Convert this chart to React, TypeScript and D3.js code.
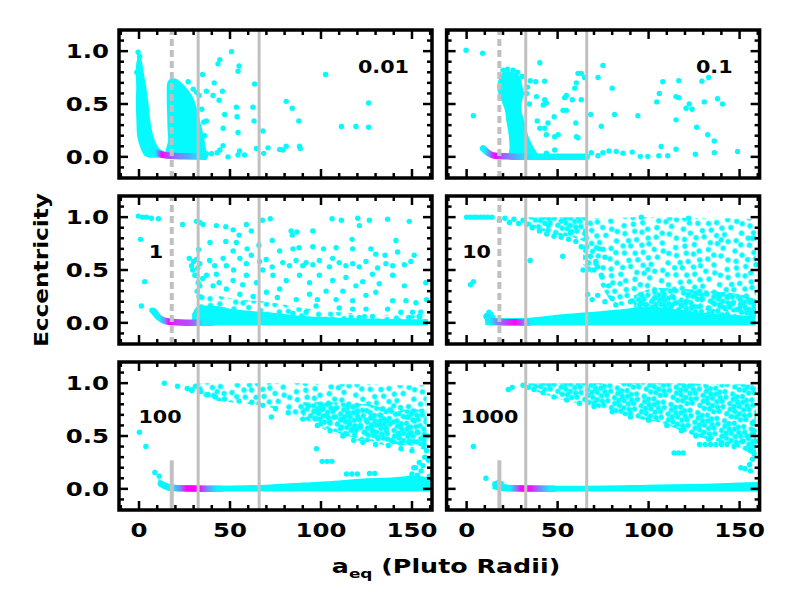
import React from "react";
import * as d3 from "d3";

// ---- data ----
const X_DOMAIN: [number, number] = [-11, 161];
const Y_DOMAIN: [number, number] = [-0.2, 1.2];
const X_MAJOR = [0, 50, 100, 150];
const X_MINOR = d3.range(-10, 161, 10);
const Y_MAJOR = [0, 0.5, 1.0];
const Y_MINOR = d3.range(-0.1, 1.15, 0.1);
const MASS_LABELS = ["0.01", "0.1", "1", "10", "100", "1000"];
const DASHED_A = 18;
const SOLID_A = [32.5, 66];

// scattered points [a, e]
const pts001: [number, number][] = [
  [50.8, 0.995], [44.4, 0.92], [43.4, 0.88], [55, 0.86], [54.4, 0.81], [34.9, 0.78], [102.5, 0.78],
  [27, 0.71], [41.3, 0.7], [63.5, 0.69], [29.8, 0.64], [31.6, 0.61], [37, 0.62], [40.7, 0.58],
  [45.8, 0.62], [44, 0.535], [80.9, 0.525], [126.2, 0.51], [53.5, 0.47], [62.6, 0.47], [84.2, 0.46],
  [47.1, 0.4], [53.9, 0.38], [63.2, 0.34], [87.8, 0.34], [37, 0.34], [35.6, 0.33], [111.2, 0.287],
  [119.2, 0.287], [126.2, 0.28], [46.2, 0.27], [54.4, 0.23], [68.1, 0.245], [46.2, 0.106], [44.4, 0.065],
  [88.2, 0.1], [88.6, 0.08], [80.9, 0.1], [77.3, 0.07], [79.1, 0.065], [70.9, 0.085], [64.5, 0.08],
  [55.3, 0.055], [54.4, 0.017], [58, 0.017], [48.9, 0.0], [68.5, 0.033], [42.9, 0.04], [37, 0.03], [39.8, 0.03],
  [-0.5, 0.99], [0.3, 0.95], [-1.2, 0.8], [1.2, 0.78], [33, 0.58], [34.5, 0.45], [36, 0.2],
];
const pts01: [number, number][] = [
  [-0.3, 1.008], [8.8, 0.98], [3.7, 0.39], [40.2, 0.89], [74.9, 0.865], [61.2, 0.79], [63, 0.79],
  [64.8, 0.75], [72.2, 0.75], [38, 0.71], [42.9, 0.715], [60.3, 0.7], [80, 0.65], [59.4, 0.65],
  [107.8, 0.71], [116.6, 0.72], [129.3, 0.715], [133, 0.75], [105.9, 0.6], [115, 0.57], [116.6, 0.56],
  [130.6, 0.52], [137.9, 0.55], [140.6, 0.5], [122.4, 0.5], [120.6, 0.46], [123.9, 0.45], [104.5, 0.52],
  [38.4, 0.57], [42.9, 0.54], [43.8, 0.51], [42.1, 0.49], [53.9, 0.56], [54.8, 0.58], [58.1, 0.54],
  [63, 0.54], [53, 0.44], [54.8, 0.44], [68.2, 0.4], [81.3, 0.4], [94.1, 0.39], [48.1, 0.38], [38.8, 0.34],
  [44.7, 0.32], [60, 0.32], [74, 0.29], [40.2, 0.27], [42.9, 0.27], [115.1, 0.35], [126.4, 0.28],
  [132.5, 0.21], [43.8, 0.21], [48.4, 0.19], [50.3, 0.21], [60.3, 0.19], [61.2, 0.18], [136.1, 0.15],
  [106.9, 0.098], [115.1, 0.072], [148.9, 0.05], [136.1, 0.04], [125.7, 0.025], [105.6, 0.01], [110.5, 0.01],
  [95.4, 0.005], [99.6, 0.005], [91, 0.045], [85.9, 0.035], [82.2, 0.05], [78.2, 0.055], [74.9, 0.04],
  [72.2, 0.01], [68.5, 0.04], [48.4, 0.065], [43.8, 0.035], [35, 0.72], [33, 0.6], [34.5, 0.5],
  [20, 0.82], [22.5, 0.83], [25.5, 0.82], [28, 0.8], [30.5, 0.76], [33.5, 0.66],
];
const pts1: [number, number][] = [
  [-0.4, 1.01], [1.9, 1.0], [4.1, 1.0], [6.8, 0.99], [10.7, 0.985], [0.8, 0.79], [3.1, 0.39], [1.3, 0.16],
  [7.1, 0.12], [8.9, 0.1], [23.9, 0.93], [31.6, 0.96], [33.4, 0.95], [35.2, 0.93], [42.5, 0.92], [47.7, 0.91],
  [51.7, 0.88], [55, 0.83], [59, 0.93], [61.7, 0.87], [67.8, 0.97], [72.1, 0.985], [83.6, 0.87], [86.7, 0.86],
  [84.2, 0.83], [95.5, 0.87], [106.1, 0.985], [111.2, 0.97], [120.2, 0.99], [121.1, 0.92], [126.6, 0.97],
  [136.6, 0.98], [148.5, 0.96], [32.7, 0.695], [39, 0.76], [47.7, 0.77], [51.7, 0.68], [53.5, 0.76],
  [59.4, 0.7], [61.7, 0.64], [65.9, 0.735], [73.2, 0.78], [77.3, 0.68], [84.6, 0.7], [87.9, 0.71],
  [95.5, 0.72], [101.4, 0.7], [108.3, 0.71], [117.1, 0.79], [117.4, 0.7], [127.4, 0.7], [130.1, 0.65],
  [135.2, 0.64], [141.2, 0.78], [142.1, 0.67], [151.2, 0.64], [27.6, 0.61], [28.9, 0.54], [33.4, 0.56],
  [38.8, 0.59], [41.6, 0.54], [46.2, 0.61], [48, 0.54], [55.4, 0.61], [59, 0.56], [66.3, 0.58], [69.9, 0.6],
  [73.2, 0.53], [79, 0.57], [82.7, 0.54], [86.3, 0.59], [90, 0.54], [91.8, 0.57], [95.5, 0.55], [99.1, 0.59],
  [104.6, 0.53], [106.4, 0.61], [110, 0.57], [113.7, 0.54], [117.4, 0.56], [121, 0.53], [124.7, 0.58],
  [131.1, 0.52], [135.7, 0.56], [139.4, 0.54], [145.8, 0.55], [149.4, 0.58], [30.7, 0.45], [37.1, 0.45],
  [42.5, 0.46], [51.7, 0.4], [59, 0.45], [64.5, 0.38], [73.6, 0.45], [80.9, 0.4], [88.2, 0.45], [93.7, 0.38],
  [99.1, 0.45], [106.4, 0.4], [113.7, 0.43], [119.2, 0.35], [122.9, 0.39], [128.3, 0.46], [139.4, 0.45],
  [145.8, 0.35], [157.6, 0.38], [33.4, 0.35], [40.7, 0.35], [48, 0.32], [55.4, 0.27], [62.7, 0.25], [70, 0.29],
  [77.3, 0.32], [86.4, 0.22], [93.7, 0.27], [102.8, 0.3], [108.3, 0.22], [117.4, 0.21], [124.7, 0.26],
  [130.1, 0.29], [139.4, 0.21], [146.7, 0.21], [152.2, 0.19], [136.6, 0.13], [143.9, 0.1], [150.3, 0.1],
  [154.8, 0.1], [110, 0.14], [117.4, 0.13], [124.7, 0.13], [97.3, 0.16], [91.8, 0.1], [84.6, 0.09],
  [121, 0.05], [128.3, 0.06], [142.8, 0.02], [148.2, 0.05], [153.9, 0.06], [32, 0.3], [32.5, 0.38],
  [31.8, 0.45], [32.3, 0.52], [31.5, 0.6], [33, 0.25], [29.5, 0.5], [30, 0.58], [35, 0.42], [44, 0.38],
  [52, 0.5], [57, 0.36], [68, 0.5], [76, 0.24], [98, 0.22], [112, 0.3], [132, 0.37], [158, 0.22],
];
const pts10: [number, number][] = [
  [0, 1], [2, 1], [4, 1], [5.5, 1], [7.5, 1], [9.5, 1], [11.5, 1], [14, 1], [2.1, 0.36], [3.7, 0.39],
  [34.9, 0.59], [11, 0.07], [12.3, 0.1], [13.5, 0.08], [11.5, 0.04], [14.5, 0.05], [18, 0.97], [21, 0.99],
  [23.5, 0.95], [26, 0.98], [28.5, 0.94], [31, 0.97], [33, 0.93], [36, 0.9], [40, 0.87], [44, 0.84],
  [48, 0.82], [52, 0.81], [56, 0.79], [60, 0.77], [63, 0.72], [66, 0.72], [57, 0.85], [45, 0.92],
  [64, 0.5], [67, 0.51], [70, 0.5], [72, 0.53], [66.5, 0.27], [69, 0.22], [72, 0.26], [76, 0.2], [80, 0.23],
  [68, 0.63], [71, 0.58], [74, 0.45], [78, 0.35], [73, 0.7], [76, 0.62], [52.8, 0.63], [82, 0.17], [90, 0.2],
  [118, 0.16], [133, 0.14], [150, 0.13], [158, 0.2], [159, 0.55], [157, 0.8], [96, 1.0], [122, 0.99],
];
const pts100: [number, number][] = [
  [0.2, 0.536], [3.8, 0.4], [13.9, 1.0], [21.2, 0.97], [8.7, 0.155], [11.1, 0.12], [97.5, 0.38],
  [100.6, 0.26], [103.3, 0.26], [106, 0.26], [114, 0.14], [117, 0.14], [120, 0.14], [126.6, 0.146],
  [129.5, 0.146], [72.7, 0.68], [148, 0.1], [150, 0.14], [152, 0.2], [155, 0.17], [154, 0.25], [156, 0.22],
  [157, 0.3], [158, 0.36], [156.5, 0.42], [158.5, 0.5], [159, 0.27], [159.5, 0.12], [151, 0.2], [153, 0.13],
  [26.5, 0.95], [29, 0.93], [31, 0.97], [34, 0.92], [38, 0.89], [42, 0.87], [47, 0.85], [55, 0.83],
  [62, 0.82], [68, 0.79], [75, 0.76], [82, 0.72], [90, 0.66], [98, 0.6], [105, 0.55], [112, 0.5],
  [118, 0.46], [123, 0.44], [130, 0.42], [137, 0.41], [144, 0.38], [150, 0.36],
];
const pts1000: [number, number][] = [
  [3.7, 0.4], [10.6, 0.1], [22.9, 0.94], [25.1, 0.96], [114, 0.34], [116.5, 0.34], [119, 0.34],
  [128, 0.42], [131, 0.42], [134, 0.42], [137, 0.42], [140, 0.42], [143, 0.42], [150.7, 0.2], [153, 0.19],
  [156, 0.17], [155.5, 0.23], [157, 0.28], [158, 0.33], [156, 0.38], [152, 0.45], [159, 0.45], [158, 0.55],
  [157, 0.62], [154, 0.5], [16, 0.05], [17.5, 0.06], [19, 0.05], [31, 0.98], [34, 0.96], [37, 0.94],
  [42, 0.91], [48, 0.87], [55, 0.84], [62, 0.81], [70, 0.78], [80, 0.73], [90, 0.68], [100, 0.65],
  [110, 0.6], [118, 0.55], [126, 0.5], [133, 0.47], [140, 0.44], [147, 0.4],
];

// dense clumps, [e, aMin, aMax]
const clumps001: [number, number, number][][] = [
  [[0.93, -0.4, 0.6], [0.88, -1.0, 1.3], [0.8, -1.3, 2.0], [0.67, -1.0, 3.3], [0.51, -1.2, 4.6],
   [0.35, -0.9, 5.6], [0.19, -0.4, 7.4], [0.08, 1.5, 10.4], [0.02, 3.3, 15], [0.0, 6, 15]],
  [[0.735, 18, 19.5], [0.71, 16.3, 22], [0.66, 15.8, 25], [0.58, 15.8, 28.5], [0.5, 15.8, 30.5], [0.4, 16, 32],
   [0.27, 16.2, 34], [0.15, 16.5, 35.5], [0.05, 15, 36.5], [-0.005, 15, 37]],
];
const clumps01: [number, number, number][][] = [
  [[0.8, 21, 23], [0.77, 19, 28], [0.72, 18, 29.5], [0.67, 17.4, 30], [0.6, 18, 31], [0.54, 19.5, 30],
   [0.44, 21.6, 29.5], [0.35, 22.3, 31], [0.19, 23.8, 33.5], [0.065, 24, 37], [-0.005, 23, 40]],
];

// filled bands, [a, eLow, eHigh]
const solid1: [number, number, number][] = [
  [30, -0.01, 0.08], [33, -0.01, 0.15], [40, -0.01, 0.15], [50, -0.01, 0.12], [60, -0.01, 0.1], [75, -0.01, 0.08],
  [90, -0.01, 0.05], [110, -0.01, 0.035], [130, -0.01, 0.025], [158, -0.01, 0.02],
];
const cloud1: [number, number, number][] = [
  [32, 0.1, 0.3], [40, 0.1, 0.27], [55, 0.08, 0.22], [70, 0.06, 0.2], [90, 0.04, 0.14], [110, 0.02, 0.1],
  [130, 0.02, 0.08], [158, 0.01, 0.07],
];
const solid10: [number, number, number][] = [
  [11, -0.005, 0.06], [15, -0.01, 0.03], [35, -0.01, 0.035], [51, -0.01, 0.065], [70, -0.01, 0.09],
  [88, -0.01, 0.12], [100, -0.01, 0.135], [110, -0.01, 0.125], [125, -0.01, 0.09], [140, -0.01, 0.07], [158, -0.01, 0.05],
];
const dense10: [number, number, number][] = [
  [33, 0.93, 1.0], [40, 0.88, 1.0], [50, 0.83, 1.0], [60, 0.8, 1.0], [66, 0.76, 1.0],
];
const lowDense10: [number, number, number][] = [
  [92, 0.12, 0.26], [105, 0.12, 0.33], [120, 0.08, 0.32], [135, 0.06, 0.3], [150, 0.05, 0.27], [159, 0.05, 0.22],
];
const cloud10: [number, number, number][] = [
  [64, 0.55, 0.99], [72, 0.4, 0.99], [80, 0.2, 0.99], [90, 0.15, 1.0], [110, 0.14, 1.0], [130, 0.13, 0.99],
  [145, 0.1, 0.99], [159, 0.08, 0.98],
];
const solid100: [number, number, number][] = [
  [11.5, 0.035, 0.07], [17, -0.005, 0.025], [40, -0.01, 0.015], [70, -0.01, 0.025], [90, -0.01, 0.045],
  [110, -0.01, 0.065], [125, -0.01, 0.085], [140, -0.01, 0.095], [152, -0.01, 0.11], [160, -0.01, 0.09],
];
const cloud100: [number, number, number][] = [
  [27, 0.93, 0.975], [35, 0.86, 1.0], [50, 0.82, 1.0], [70, 0.78, 1.0], [88, 0.68, 1.0], [106, 0.53, 0.99],
  [125, 0.44, 0.99], [143, 0.4, 0.98], [158, 0.37, 0.98],
];
const dense100: [number, number, number][] = [
  [90, 0.68, 0.82], [106, 0.55, 0.82], [125, 0.46, 0.8], [143, 0.42, 0.75], [158, 0.4, 0.75],
];
const solid1000: [number, number, number][] = [
  [15, 0.01, 0.05], [19, -0.005, 0.03], [30, -0.01, 0.015], [60, -0.01, 0.015], [100, -0.01, 0.025],
  [130, -0.01, 0.035], [150, -0.01, 0.045], [160, -0.01, 0.05],
];
const dense1000: [number, number, number][] = [
  [31, 0.97, 0.99], [37, 0.93, 1.0], [53, 0.84, 1.0], [71, 0.775, 1.0], [89, 0.68, 1.0], [108, 0.62, 1.0],
  [122, 0.52, 1.0], [135, 0.46, 0.99], [144, 0.43, 0.99], [153, 0.36, 0.99], [159, 0.3, 0.98],
];

// low-eccentricity track [a, e] and its colour value along a [a, t]
const track001: [number, number][] = [[7, 0.07], [10, 0.035], [13, 0.02], [18, 0.01], [25, 0.005], [36, 0.0]];
const tint001: [number, number][] = [[9, 0.05], [12.5, 1.0], [15, 0.8], [20, 0.55], [27, 0.35], [34, 0.05]];
const track01: [number, number][] = [[9, 0.08], [12, 0.035], [15.5, 0.01], [22, 0.005], [35, 0.0], [66, 0.0]];
const tint01: [number, number][] = [[10, 0.05], [15.5, 1.0], [19, 0.7], [24, 0.45], [30, 0.2], [36, 0.03]];
const track1: [number, number][] = [[8, 0.11], [11, 0.05], [15, 0.015], [20, 0.005], [32, 0.0], [40, 0.0]];
const tint1: [number, number][] = [[11, 0.05], [14, 0.4], [16.5, 1], [20, 0.8], [28, 0.7], [31, 0.5], [35, 0.05]];
const track10: [number, number][] = [[11, 0.06], [13, 0.025], [17, 0.01], [25, 0.005], [35, 0.003]];
const tint10: [number, number][] = [[13, 0.1], [17, 0.5], [22, 0.75], [26.5, 1.0], [30, 0.7], [35, 0.05]];
const track100: [number, number][] = [[12, 0.05], [16, 0.02], [20, 0.008], [30, 0.003], [45, 0.0]];
const tint100: [number, number][] = [[18, 0.05], [23, 0.5], [26, 1.0], [33, 1.0], [37, 0.5], [43, 0.03]];
const track1000: [number, number][] = [[16, 0.04], [20, 0.015], [26, 0.005], [35, 0.003], [48, 0.0]];
const tint1000: [number, number][] = [[24, 0.05], [27, 0.5], [30, 1], [35, 0.95], [40, 0.5], [46, 0.03]];

type Strip = [number, number, number][];
interface PanelData {
  label: string;
  points: [number, number][];
  clumps: Strip[];
  solid: Strip[];
  cloud: Strip[];
  dense: Strip[];
  track: [number, number][];
  tint: [number, number][];
  dashTop: number;
}

const PANELS: PanelData[] = [
  { label: MASS_LABELS[0], points: pts001, clumps: clumps001, solid: [], cloud: [], dense: [], track: track001, tint: tint001, dashTop: 1.2 },
  { label: MASS_LABELS[1], points: pts01, clumps: clumps01, solid: [], cloud: [], dense: [], track: track01, tint: tint01, dashTop: 1.2 },
  { label: MASS_LABELS[2], points: pts1, clumps: [], solid: [solid1], cloud: [cloud1], dense: [], track: track1, tint: tint1, dashTop: 1.2 },
  { label: MASS_LABELS[3], points: pts10, clumps: [], solid: [solid10], cloud: [cloud10], dense: [dense10, lowDense10], track: track10, tint: tint10, dashTop: 1.2 },
  { label: MASS_LABELS[4], points: pts100, clumps: [], solid: [solid100], cloud: [cloud100], dense: [dense100], track: track100, tint: tint100, dashTop: 0.27 },
  { label: MASS_LABELS[5], points: pts1000, clumps: [], solid: [solid1000], cloud: [], dense: [dense1000], track: track1000, tint: tint1000, dashTop: 0.27 },
];

// ---- layout ----
const COLS = [119, 446.6];
const ROWS = [30, 196, 362];
const PW = 313;
const PH = 148;
const FONT = "DejaVu Sans, sans-serif";
const CYAN = "#05fafe";
const GREY = "#c0c0c0";
const DOT_R = 2.7;
// label placement per panel: [dx, dy, anchor]
const LABEL_POS: [number, number, string][] = [
  [290, 43, "end"], [286, 43, "end"], [37, 62, "middle"], [30, 62, "middle"], [41, 61, "middle"], [43, 61, "middle"],
];
// irregular dot textures for the crowded clouds (style only)
const TEX_MED: [number, number][] = [
  [4, 5], [12, 3], [15, 9], [23, 4], [30, 8], [38, 3], [45, 6], [52, 4], [7, 14], [19, 15], [26, 13],
  [34, 16], [41, 12], [49, 15], [3, 22], [11, 21], [17, 26], [24, 22], [31, 25], [37, 21], [44, 24],
  [53, 22], [6, 31], [14, 33], [21, 30], [28, 35], [35, 31], [42, 34], [50, 30], [4, 40], [10, 42],
  [18, 39], [25, 44], [33, 40], [40, 43], [47, 39], [53, 44], [7, 50], [15, 51], [22, 53], [29, 49],
  [37, 52], [44, 50], [51, 52], [46, 45],
];
const TEX_DENSE: [number, number][] = [
  [3, 3], [8, 4.5], [13, 2.5], [18, 5], [23, 3], [25.5, 8], [5, 8], [10, 9.5], [15, 8], [20, 10], [3, 13],
  [8, 14.5], [13, 13], [18, 15], [23, 13], [25.5, 18], [5, 18.5], [10, 19], [15, 20], [20.5, 20], [3, 23.5],
  [8, 25], [13, 24], [18, 25.5], [23, 23.5],
];

const cool = d3.interpolateRgb("#00ffff", "#ff00ff");

const SText: React.FC<{ x: number; y: number; sx: number; rotate?: number; size: number; anchor: string; dy?: string; children: React.ReactNode }> = ({
  x, y, sx, rotate = 0, size, anchor, dy, children,
}) => (
  <g transform={`translate(${x},${y}) rotate(${rotate}) scale(${sx},1)`}>
    <text textAnchor={anchor as any} dy={dy} fontSize={size} fontWeight="bold" fontFamily={FONT}>
      {children}
    </text>
  </g>
);

const Panel: React.FC<{ p: PanelData; idx: number }> = ({ p, idx }) => {
  const left = COLS[idx % 2];
  const top = ROWS[Math.floor(idx / 2)];
  const x = d3.scaleLinear().domain(X_DOMAIN).range([0, PW]);
  const y = d3.scaleLinear().domain(Y_DOMAIN).range([PH, 0]);

  const clumpArea = d3.area<[number, number, number]>()
    .y((d) => y(d[0])).x0((d) => x(d[1])).x1((d) => x(d[2])).curve(d3.curveCatmullRom);
  const stripArea = d3.area<[number, number, number]>()
    .x((d) => x(d[0])).y0((d) => y(d[1])).y1((d) => y(d[2])).curve(d3.curveMonotoneX);
  const trackLine = d3.line<[number, number]>().x((d) => x(d[0])).y((d) => y(d[1])).curve(d3.curveMonotoneX);

  const gid = `grad${idx}`;
  const cid = `clip${idx}`;
  const [dx, dy, anchor] = LABEL_POS[idx];
  const tx0 = x(p.track[0][0]);
  const tx1 = x(p.track[p.track.length - 1][0]);

  return (
    <g transform={`translate(${left},${top})`}>
      <defs>
        <clipPath id={cid}>
          <rect width={PW} height={PH} />
        </clipPath>
        <linearGradient id={gid} gradientUnits="userSpaceOnUse" x1={tx0} x2={tx1} y1={0} y2={0}>
          {p.tint.map(([a, t], i) => (
            <stop key={i} offset={Math.max(0, Math.min(1, (x(a) - tx0) / (tx1 - tx0)))} stopColor={cool(t)} />
          ))}
        </linearGradient>
      </defs>
      <g clipPath={`url(#${cid})`}>
        {p.cloud.map((s, i) => <path key={`c${i}`} d={stripArea(s) ?? ""} fill="url(#dotsMed)" />)}
        {p.dense.map((s, i) => <path key={`d${i}`} d={stripArea(s) ?? ""} fill="url(#dotsDense)" />)}
        {p.solid.map((s, i) => <path key={`s${i}`} d={stripArea(s) ?? ""} fill={CYAN} stroke={CYAN} strokeWidth={3} />)}
        {p.clumps.map((s, i) => <path key={`k${i}`} d={clumpArea(s) ?? ""} fill={CYAN} stroke={CYAN} strokeWidth={2} />)}
        {p.points.map(([a, e], i) => <circle key={i} cx={x(a)} cy={y(e)} r={DOT_R} fill={CYAN} />)}
        <path d={trackLine(p.track) ?? ""} fill="none" stroke={`url(#${gid})`} strokeWidth={6.5} strokeLinecap="round" />
        <line x1={x(DASHED_A)} x2={x(DASHED_A)} y1={PH} y2={y(p.dashTop)} stroke={GREY} strokeWidth={4}
          strokeDasharray={p.dashTop < 1.2 ? undefined : "7,4"} />
        {SOLID_A.map((a) => <line key={a} x1={x(a)} x2={x(a)} y1={0} y2={PH} stroke={GREY} strokeWidth={3} />)}
      </g>
      {/* ticks on all four sides, pointing in */}
      {X_MINOR.map((a) => (
        <g key={`xm${a}`} stroke="#000" strokeWidth={2.5}>
          <line x1={x(a)} x2={x(a)} y1={PH} y2={PH - (X_MAJOR.includes(a) ? 9 : 5)} />
          <line x1={x(a)} x2={x(a)} y1={0} y2={X_MAJOR.includes(a) ? 9 : 5} />
        </g>
      ))}
      {Y_MINOR.map((e) => {
        const major = Y_MAJOR.some((m) => Math.abs(m - e) < 1e-6);
        return (
          <g key={`ym${e.toFixed(1)}`} stroke="#000" strokeWidth={2.5}>
            <line x1={0} x2={major ? 9 : 5} y1={y(e)} y2={y(e)} />
            <line x1={PW} x2={PW - (major ? 9 : 5)} y1={y(e)} y2={y(e)} />
          </g>
        );
      })}
      <rect width={PW} height={PH} fill="none" stroke="#000" strokeWidth={3.5} />
      {idx % 2 === 0 &&
        Y_MAJOR.map((e) => (
          <SText key={e} x={-10} y={y(e)} dy="0.36em" sx={1.22} size={20} anchor="end">
            {e.toFixed(1)}
          </SText>
        ))}
      {idx >= 4 &&
        X_MAJOR.map((a) => (
          <SText key={a} x={x(a)} y={PH + 27} sx={1.22} size={20} anchor="middle">
            {a}
          </SText>
        ))}
      <SText x={dx} y={dy} sx={1.15} size={18} anchor={anchor}>
        {p.label}
      </SText>
    </g>
  );
};

export default function App() {
  return (
    <svg width={800} height={600} style={{ display: "block", margin: -8, background: "#fff" }}>
      <defs>
        <pattern id="dotsMed" width={56} height={56} patternUnits="userSpaceOnUse" patternTransform="rotate(23)">
          {TEX_MED.map(([cx, cy], i) => <circle key={i} cx={cx} cy={cy} r={DOT_R} fill={CYAN} />)}
        </pattern>
        <pattern id="dotsDense" width={28} height={28} patternUnits="userSpaceOnUse" patternTransform="rotate(17)">
          {TEX_DENSE.map(([cx, cy], i) => <circle key={i} cx={cx} cy={cy} r={DOT_R} fill={CYAN} />)}
        </pattern>
      </defs>
      <rect width={800} height={600} fill="#fff" />
      {PANELS.map((p, i) => <Panel key={i} p={p} idx={i} />)}
      <SText x={48} y={270} rotate={-90} sx={1.19} size={19.5} anchor="middle">
        Eccentricity
      </SText>
      <SText x={446} y={573} sx={1.3} size={19.5} anchor="middle">
        a<tspan fontSize={13} dy={5}>eq</tspan><tspan dy={-5}> (Pluto Radii)</tspan>
      </SText>
    </svg>
  );
}
